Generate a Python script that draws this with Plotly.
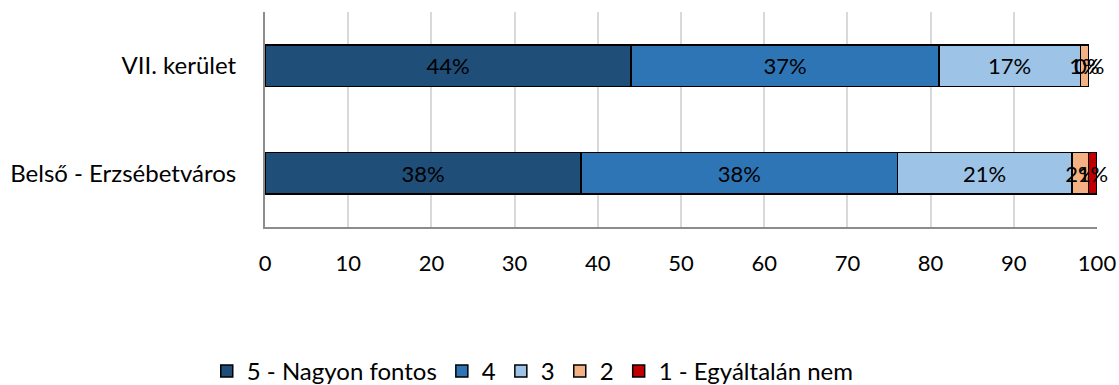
import plotly.graph_objects as go

# categories, top to bottom
categories = ["VII. kerület", "Belső - Erzsébetváros"]

# answer levels and the share of each (percent)
levels = ["5 - Nagyon fontos", "4", "3", "2", "1 - Egyáltalán nem"]
very_important = [44, 38]
four = [37, 38]
three = [17, 21]
two = [1, 2]
not_at_all = [0, 1]

colors = ["#1F4E79", "#2E75B6", "#9DC3E6", "#F4B183", "#C00000"]

fig = go.Figure()
base = [0] * len(categories)
for name, vals, col in zip(levels, [very_important, four, three, two, not_at_all], colors):
    fig.add_trace(go.Bar(
        y=categories, x=vals, name=name, orientation="h",
        marker=dict(color=col, line=dict(color="black", width=1.5)),
        text=[f"{v}%" for v in vals], textposition="inside", textangle=0,
        insidetextanchor="middle", textfont=dict(color="black"),
        cliponaxis=False,
    ))
    # zero-width segments get no inside text, so label them by hand
    for cat, b, v in zip(categories, base, vals):
        if v == 0:
            fig.add_annotation(x=b, y=cat, text=f"{v}%", showarrow=False,
                               font=dict(size=22, color="black"))
    base = [b + v for b, v in zip(base, vals)]

fig.update_layout(
    barmode="stack", bargap=0.61,
    width=1119, height=385,
    margin=dict(l=265, r=22, t=12, b=158, autoexpand=False),
    plot_bgcolor="white", paper_bgcolor="white",
    font=dict(family="Lato", size=22, color="black"),
    uniformtext=dict(minsize=22, mode="show"),
    legend=dict(orientation="h", x=-0.07, xanchor="left", y=-0.672, yanchor="middle",
                font=dict(size=24), traceorder="normal", itemwidth=30),
    showlegend=True,
)
fig.update_xaxes(range=[0, 100], dtick=10, showgrid=True, gridcolor="#D9D9D9", gridwidth=1.5,
                 showline=True, linecolor="#8C8C8C", linewidth=2, zeroline=False,
                 ticks="", ticklabelstandoff=16, automargin=False)
fig.update_yaxes(autorange="reversed", showline=True, linecolor="#8C8C8C", linewidth=2,
                 ticks="", ticklabelstandoff=22, tickfont=dict(size=24), automargin=False)

fig.write_html("out.html", config={"displayModeBar": False},
               post_script="document.body.style.margin='0';")
